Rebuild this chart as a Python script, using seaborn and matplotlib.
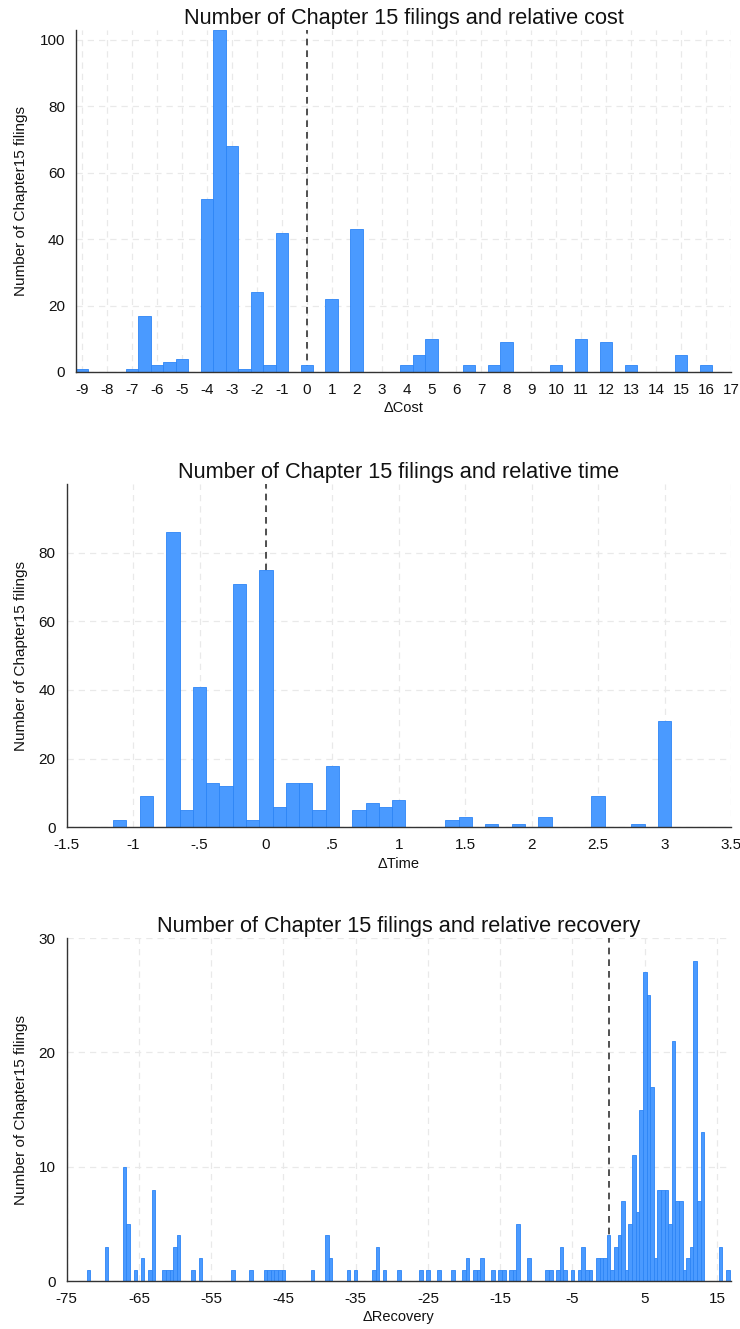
import numpy as np
import pandas as pd
import matplotlib
matplotlib.use("Agg")
import matplotlib.pyplot as plt
import seaborn as sns

# ---- data (bin centre -> number of filings) ----
cost_x = [-9, -7, -6.5, -6, -5.5, -5, -4, -3.5, -3, -2.5, -2, -1.5, -1, 0, 1, 2,
          4, 4.5, 5, 6.5, 7.5, 8, 10, 11, 12, 13, 15, 16]
cost_n = [1, 1, 17, 2, 3, 4, 52, 103, 68, 1, 24, 2, 42, 2, 22, 43,
          2, 5, 10, 2, 2, 9, 2, 10, 9, 2, 5, 2]

time_x = [-1.1, -0.9, -0.7, -0.6, -0.5, -0.4, -0.3, -0.2, -0.1, 0.0, 0.1, 0.2, 0.3,
          0.4, 0.5, 0.7, 0.8, 0.9, 1.0, 1.4, 1.5, 1.7, 1.9, 2.1, 2.5, 2.8, 3.0]
time_n = [2, 9, 86, 5, 41, 13, 12, 71, 2, 75, 6, 13, 13,
          5, 18, 5, 7, 6, 8, 2, 3, 1, 1, 3, 9, 1, 31]

rec_x = [-72.0, -69.5, -67.0, -66.5, -65.5, -64.5, -63.5, -63.0, -61.5, -61.0,
         -60.5, -60.0, -59.5, -57.5, -56.5, -52.0, -49.5, -47.5, -47.0, -46.5,
         -46.0, -45.5, -45.0, -41.0, -39.0, -38.5, -36.0, -35.0, -32.5, -32.0,
         -31.0, -29.0, -26.0, -25.0, -23.5, -21.5, -20.0, -19.5, -18.5, -18.0,
         -17.5, -16.0, -15.0, -14.5, -13.5, -13.0, -12.5, -11.0, -8.5, -8.0,
         -7.0, -6.5, -6.0, -5.0, -4.0, -3.5, -3.0, -2.5, -1.5, -1.0,
         -0.5, 0.0, 0.5, 1.0, 1.5, 2.0, 2.5, 3.0, 3.5, 4.0,
         4.5, 5.0, 5.5, 6.0, 6.5, 7.0, 7.5, 8.0, 8.5, 9.0,
         9.5, 10.0, 10.5, 11.0, 11.5, 12.0, 12.5, 13.0, 15.5, 16.5]
rec_n = [1, 3, 10, 5, 1, 2, 1, 8, 1, 1,
         1, 3, 4, 1, 2, 1, 1, 1, 1, 1,
         1, 1, 1, 1, 4, 2, 1, 1, 1, 3,
         1, 1, 1, 1, 1, 1, 1, 2, 1, 1,
         2, 1, 1, 1, 1, 1, 5, 2, 1, 1,
         1, 3, 1, 1, 1, 3, 1, 1, 2, 2,
         2, 4, 1, 3, 4, 7, 1, 5, 11, 6,
         15, 27, 25, 17, 2, 8, 8, 8, 5, 21,
         7, 7, 1, 2, 3, 28, 7, 13, 3, 1]

cost_ticks = list(range(-9, 18))
time_ticks = [-1.5, -1, -0.5, 0, 0.5, 1, 1.5, 2, 2.5, 3, 3.5]
rec_ticks = list(range(-75, 16, 10))

BAR = "#4a9aff"
EDGE = "#2d85f6"
GRID = "#e9e9e9"
INK = "#111111"

sns.set_style("white")
plt.rcParams["font.family"] = ["Liberation Sans", "DejaVu Sans"]
plt.rcParams["axes.unicode_minus"] = False
plt.rcParams["text.color"] = INK
plt.rcParams["axes.labelcolor"] = INK
plt.rcParams["xtick.color"] = INK
plt.rcParams["ytick.color"] = INK


def stata_fmt(v, pos=None):
    s = f"{v:g}"
    if s.startswith("0."):
        s = s[1:]
    elif s.startswith("-0."):
        s = "-" + s[2:]
    return s


def draw_hist(ax, x, n, width, lo, hi, title, xlabel, xticks, yticks, xlim, ylim, lab_x):
    df = pd.DataFrame({"x": x, "n": n})
    sns.histplot(data=df, x="x", weights="n", binwidth=width, binrange=(lo, hi),
                 color=BAR, edgecolor=EDGE, linewidth=0.6, alpha=1, ax=ax)
    ax.set_xlim(*xlim)
    ax.set_ylim(*ylim)
    ax.set_xticks(xticks)
    ax.set_yticks(yticks)
    ax.xaxis.set_major_formatter(plt.FuncFormatter(stata_fmt))
    ax.set_axisbelow(True)
    ax.grid(True, color=GRID, linestyle=(0, (5, 4)), linewidth=0.9)
    # reference line sits behind the bars
    ax.axvline(0, color="#333333", linestyle=(0, (4, 3)), linewidth=1.2, zorder=0.9)
    for side in ["top", "right"]:
        ax.spines[side].set_visible(False)
    for side in ["left", "bottom"]:
        ax.spines[side].set_color("#333333")
        ax.spines[side].set_linewidth(1.0)
    ax.tick_params(axis="both", direction="out", length=5, width=0.9,
                   color="#333333", labelsize=11, pad=3)
    ax.set_title(title, fontsize=15.7, pad=4)
    ax.set_xlabel(xlabel, fontsize=10.5, labelpad=3)
    ax.set_ylabel("Number of Chapter15 filings", fontsize=11)
    ax.yaxis.set_label_coords(lab_x, 0.5)


fig = plt.figure(figsize=(7.4, 13.29), dpi=100)
ax1 = fig.add_axes([0.1027, 0.7201, 0.885, 0.2573])
ax2 = fig.add_axes([0.0901, 0.3775, 0.8977, 0.2583])
ax3 = fig.add_axes([0.0901, 0.0361, 0.8973, 0.2581])

draw_hist(ax1, cost_x, cost_n, 0.5, -9.25, 16.25,
          "Number of Chapter 15 filings and relative cost", "\u0394Cost",
          cost_ticks, range(0, 101, 20), (-9.25, 17), (0, 103), -0.073)
draw_hist(ax2, time_x, time_n, 0.1, -1.15, 3.05,
          "Number of Chapter 15 filings and relative time", "\u0394Time",
          time_ticks, range(0, 81, 20), (-1.5, 3.5), (0, 100), -0.058)
draw_hist(ax3, rec_x, rec_n, 0.5, -72.25, 16.75,
          "Number of Chapter 15 filings and relative recovery", "\u0394Recovery",
          rec_ticks, range(0, 31, 10), (-75, 16.9), (0, 30), -0.058)

fig.savefig("out.png", dpi=100)
